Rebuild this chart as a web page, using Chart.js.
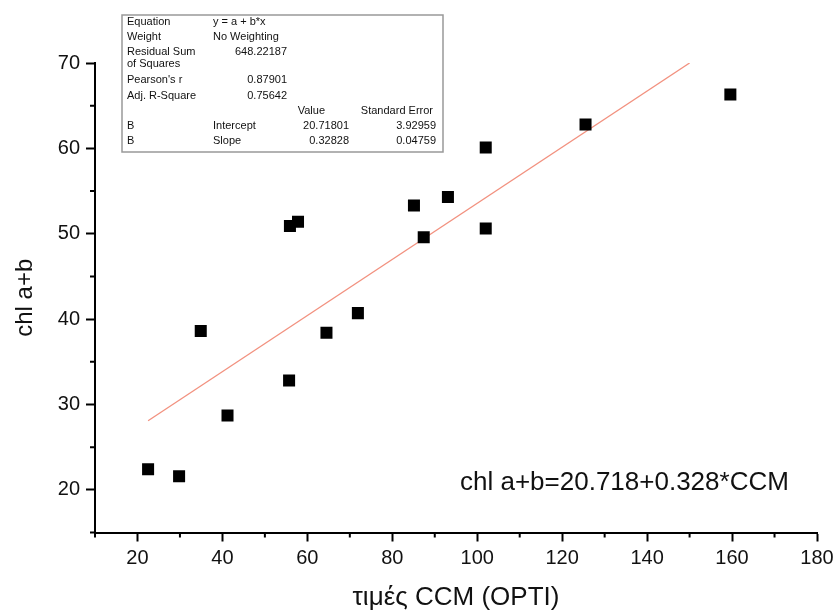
<!DOCTYPE html>
<html><head><meta charset="utf-8">
<script src="https://cdn.jsdelivr.net/npm/chart.js@4/dist/chart.umd.min.js"></script>
<style>html,body{margin:0;padding:0;background:#fff}#wrap{width:839px;height:610px;position:relative}</style>
</head><body><div id="wrap"><canvas id="c" width="839" height="610"></canvas></div>
<script>
// ---- data ----
const ccmValues = [22.5, 29.8, 34.9, 41.2, 55.7, 55.9, 57.8, 64.5, 71.9, 85.1, 87.4, 93.1, 102.0, 102.0, 125.5, 159.6];
const chlValues = [22.4, 21.6, 38.6, 28.7, 32.8, 50.9, 51.4, 38.4, 40.7, 53.3, 49.6, 54.3, 60.1, 50.6, 62.8, 66.3];
const fitX = [22.5, 150];
const fitY = [28.1, 70.0];
const xMinorTicks = [10, 30, 50, 70, 90, 110, 130, 150, 170];
const yMinorTicks = [15, 25, 35, 45, 55, 65];
const xTitle = 'τιμές CCM (OPTI)';
const yTitle = 'chl a+b';
const equationLabel = 'chl a+b=20.718+0.328*CCM';
const statLabels = ['Equation', 'Weight', 'Residual Sum|of Squares', "Pearson's r", 'Adj. R-Square'];
const statValues = ['y = a + b*x', 'No Weighting', '648.22187', '0.87901', '0.75642'];
const paramHeader = ['Value', 'Standard Error'];
const paramNames = ['B', 'B'];
const paramTerms = ['Intercept', 'Slope'];
const paramValues = ['20.71801', '0.32828'];
const paramErrors = ['3.92959', '0.04759'];

const FONT = "'Liberation Sans', Arial, Helvetica, sans-serif";

const minorTicks = {
  id: 'minorTicks',
  afterDraw(chart) {
    const ctx = chart.ctx, xs = chart.scales.x, ys = chart.scales.y, a = chart.chartArea;
    ctx.save();
    ctx.strokeStyle = '#000';
    ctx.lineWidth = 2;
    ctx.beginPath();
    xMinorTicks.forEach(v => { const p = xs.getPixelForValue(v); ctx.moveTo(p, a.bottom); ctx.lineTo(p, a.bottom + 5); });
    yMinorTicks.forEach(v => { const p = ys.getPixelForValue(v); ctx.moveTo(a.left, p); ctx.lineTo(a.left - 5, p); });
    ctx.stroke();
    ctx.restore();
  }
};

const annotations = {
  id: 'annotations',
  afterDraw(chart) {
    const ctx = chart.ctx;
    ctx.save();
    // equation text
    ctx.fillStyle = '#111';
    ctx.font = '26px ' + FONT;
    ctx.textAlign = 'left';
    ctx.textBaseline = 'middle';
    ctx.fillText(equationLabel, 460, 483);
    // stats table
    ctx.fillStyle = '#fff';
    ctx.fillRect(122, 15, 321, 137);
    ctx.strokeStyle = '#999';
    ctx.lineWidth = 1.5;
    ctx.strokeRect(122, 15, 321, 137);
    ctx.fillStyle = '#111';
    ctx.font = '11px ' + FONT;
    const rowY = [22, 37, 52, 80, 96];
    statLabels.forEach((t, i) => {
      const parts = t.split('|');
      ctx.textAlign = 'left';
      parts.forEach((p, k) => ctx.fillText(p, 127, rowY[i] + k * 12));
      if (i < 2) { ctx.fillText(statValues[i], 213, rowY[i]); }
      else { ctx.textAlign = 'right'; ctx.fillText(statValues[i], 287, rowY[i]); }
    });
    ctx.textAlign = 'right';
    ctx.fillText(paramHeader[0], 325, 111);
    ctx.fillText(paramHeader[1], 433, 111);
    const pY = [126, 141];
    paramNames.forEach((n, i) => {
      ctx.textAlign = 'left';
      ctx.fillText(n, 127, pY[i]);
      ctx.fillText(paramTerms[i], 213, pY[i]);
      ctx.textAlign = 'right';
      ctx.fillText(paramValues[i], 349, pY[i]);
      ctx.fillText(paramErrors[i], 436, pY[i]);
    });
    ctx.restore();
  }
};

const axisCommon = {
  grid: { display: true, drawOnChartArea: false, drawTicks: true, tickLength: 9, tickWidth: 2, tickColor: '#000' },
  border: { display: true, color: '#000', width: 2 },
};

new Chart(document.getElementById('c'), {
  type: 'scatter',
  data: {
    datasets: [
      {
        label: 'data',
        data: ccmValues.map((x, i) => ({ x, y: chlValues[i] })),
        pointStyle: 'rect',
        pointRadius: 8.5,
        pointHoverRadius: 8.5,
        backgroundColor: '#000',
        borderWidth: 0,
        order: 1
      },
      {
        label: 'fit',
        data: fitX.map((x, i) => ({ x, y: fitY[i] })),
        showLine: true,
        pointRadius: 0,
        borderColor: '#f2917f',
        borderWidth: 1.3,
        fill: false,
        order: 2
      }
    ]
  },
  options: {
    responsive: false,
    devicePixelRatio: 1,
    animation: false,
    layout: { padding: { left: 0, right: 22, top: 63, bottom: 0 } },
    plugins: { legend: { display: false }, tooltip: { enabled: false } },
    scales: {
      x: Object.assign({}, axisCommon, {
        type: 'linear', position: 'bottom', min: 10, max: 180,
        ticks: { stepSize: 20, includeBounds: false, color: '#111', padding: 5, maxRotation: 0,
                 font: { family: FONT, size: 20 } },
        title: { display: true, text: xTitle, color: '#111', font: { family: FONT, size: 26 }, padding: { top: 0, bottom: -3 } },
        afterFit(s) { s.height = 77.5; }
      }),
      y: Object.assign({}, axisCommon, {
        type: 'linear', position: 'left', min: 15, max: 70,
        ticks: { stepSize: 10, includeBounds: false, color: '#111', padding: 6,
                 font: { family: FONT, size: 20 } },
        title: { display: true, text: yTitle, color: '#111', font: { family: FONT, size: 24 }, padding: { top: 11, bottom: 0 } },
        afterFit(s) { s.width = 95; }
      })
    }
  },
  plugins: [minorTicks, annotations]
});
</script></body></html>
